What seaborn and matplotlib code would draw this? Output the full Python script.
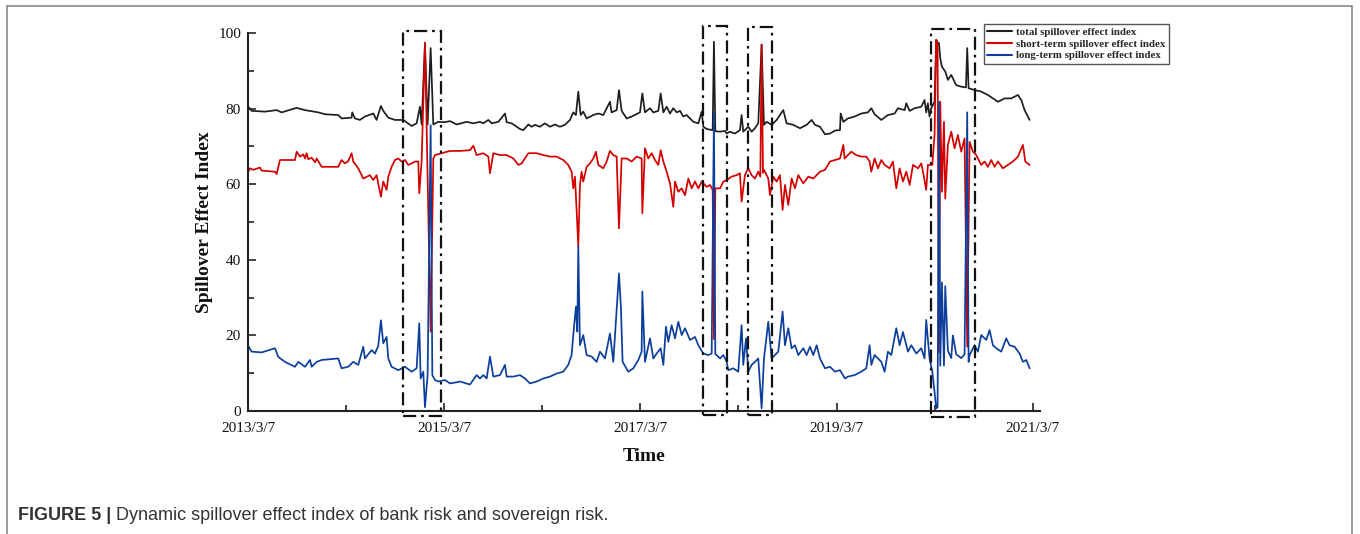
import numpy as np
import pandas as pd
import matplotlib
matplotlib.use("Agg")
import matplotlib.pyplot as plt
import seaborn as sns
from matplotlib.patches import Rectangle
from matplotlib.lines import Line2D

# ---------------- data (decimal years, index values) ----------------
total_year = [
    2013.181, 2013.215, 2013.351, 2013.470, 2013.521, 2013.674, 2013.759, 2013.895, 2013.963, 2014.098,
    2014.132, 2014.234, 2014.241, 2014.268, 2014.319, 2014.370, 2014.455, 2014.489, 2014.533, 2014.557,
    2014.608, 2014.676, 2014.761, 2014.846, 2014.897, 2014.931, 2014.948, 2014.982, 2015.009, 2015.040,
    2015.067, 2015.118, 2015.186, 2015.237,
    2015.305, 2015.407, 2015.475, 2015.543, 2015.577, 2015.628, 2015.662, 2015.730, 2015.798, 2015.815,
    2015.866, 2015.951, 2015.985, 2016.036, 2016.069, 2016.103, 2016.154, 2016.205, 2016.256, 2016.307,
    2016.358, 2016.409, 2016.460, 2016.494, 2016.521, 2016.545, 2016.569, 2016.596, 2016.630, 2016.698,
    2016.749, 2016.800, 2016.868, 2016.885, 2016.936, 2016.960, 2016.987, 2017.038, 2017.089, 2017.174,
    2017.198, 2017.225,
    2017.276, 2017.310, 2017.361, 2017.385, 2017.412, 2017.446, 2017.480, 2017.514, 2017.548, 2017.582,
    2017.616, 2017.650, 2017.684, 2017.718, 2017.769, 2017.803, 2017.820, 2017.854, 2017.915, 2017.928,
    2017.942, 2017.990, 2018.041, 2018.058, 2018.091, 2018.142, 2018.193, 2018.210, 2018.227, 2018.278,
    2018.312, 2018.346, 2018.380, 2018.414, 2018.438, 2018.465, 2018.516, 2018.567, 2018.635, 2018.669,
    2018.737, 2018.805, 2018.873, 2018.924, 2018.958, 2019.009, 2019.060, 2019.111, 2019.162, 2019.213,
    2019.220, 2019.247,
    2019.294, 2019.362, 2019.430, 2019.498, 2019.532, 2019.566, 2019.634, 2019.702, 2019.770, 2019.804,
    2019.872, 2019.889, 2019.923, 2019.974, 2020.042, 2020.075, 2020.092, 2020.109, 2020.126, 2020.143,
    2020.177, 2020.194, 2020.208, 2020.222, 2020.235, 2020.252, 2020.286, 2020.313, 2020.347, 2020.398,
    2020.449, 2020.497, 2020.510, 2020.524, 2020.585, 2020.653, 2020.721, 2020.772, 2020.823, 2020.891,
    2020.959, 2021.027, 2021.061, 2021.095, 2021.146,
]
total_index = [
    80.5, 79.4, 79.2, 79.6, 79.0, 80.2, 79.6, 79.0, 78.5, 78.3,
    77.4, 77.6, 79.0, 77.4, 77.0, 77.9, 78.7, 77.0, 80.7, 79.4,
    77.6, 77.0, 77.0, 75.4, 76.1, 80.5, 75.8, 97.0, 75.8, 96.0,
    75.8, 76.5, 76.4, 76.7,
    75.8, 76.5, 76.1, 76.5, 76.1, 77.0, 76.1, 76.5, 78.7, 76.4,
    76.1, 74.6, 74.3, 75.8, 75.2, 75.7, 75.2, 76.1, 75.2, 75.8,
    75.2, 75.7, 77.0, 79.0, 78.3, 84.5, 78.3, 79.2, 77.4, 78.3,
    78.7, 78.3, 81.8, 79.0, 79.6, 84.9, 79.4, 77.4, 77.9, 79.0,
    84.0, 79.0,
    80.1, 79.0, 79.4, 84.0, 79.0, 80.5, 78.7, 80.1, 79.0, 79.4,
    77.9, 78.3, 77.4, 76.5, 76.1, 79.2, 75.2, 74.6, 74.3, 97.7,
    74.0, 73.9, 74.1, 73.4, 73.9, 73.4, 74.3, 78.3, 73.9, 75.2,
    73.9, 74.8, 76.1, 97.0, 75.7, 76.5, 75.7, 77.0, 79.6, 76.1,
    75.7, 74.8, 75.7, 77.0, 75.7, 75.2, 73.2, 73.4, 74.2, 74.3,
    78.7, 76.5,
    77.4, 77.9, 78.7, 79.0, 80.1, 78.5, 77.0, 78.3, 78.7, 80.1,
    79.6, 81.4, 79.4, 80.1, 80.5, 82.3, 79.0, 81.4, 77.9, 80.1,
    81.8, 98.2, 97.5, 97.3, 93.3, 91.1, 89.8, 87.6, 88.9, 86.2,
    85.8, 85.6, 96.0, 85.4, 84.9, 84.5, 83.6, 82.7, 81.8, 82.7,
    82.7, 83.6, 82.3, 79.6, 77.0,
]

short_year = [
    2013.181, 2013.198, 2013.232, 2013.300, 2013.317, 2013.453, 2013.470, 2013.504, 2013.657, 2013.674,
    2013.708, 2013.742, 2013.759, 2013.776, 2013.793, 2013.827, 2013.861, 2013.878, 2013.929, 2014.098,
    2014.132, 2014.166, 2014.200, 2014.234, 2014.251, 2014.302, 2014.353, 2014.421, 2014.455, 2014.489,
    2014.533, 2014.557, 2014.591, 2014.608, 2014.642, 2014.676, 2014.710, 2014.744, 2014.778, 2014.812,
    2014.846, 2014.880, 2014.914, 2014.924, 2014.948, 2014.982, 2015.040, 2015.067, 2015.084, 2015.152,
    2015.237,
    2015.339, 2015.441, 2015.475, 2015.509, 2015.577, 2015.628, 2015.645, 2015.679, 2015.747, 2015.815,
    2015.883, 2015.934, 2015.968, 2016.036, 2016.120, 2016.188, 2016.256, 2016.324, 2016.392, 2016.443,
    2016.477, 2016.494, 2016.511, 2016.528, 2016.545, 2016.562, 2016.579, 2016.596, 2016.630, 2016.664,
    2016.698, 2016.725, 2016.749, 2016.800, 2016.834, 2016.868, 2016.902, 2016.936, 2016.960, 2016.987,
    2017.038, 2017.089, 2017.140, 2017.191, 2017.198, 2017.225,
    2017.259, 2017.293, 2017.327, 2017.361, 2017.385, 2017.412, 2017.446, 2017.480, 2017.514, 2017.531,
    2017.565, 2017.599, 2017.633, 2017.667, 2017.701, 2017.735, 2017.769, 2017.803, 2017.854, 2017.888,
    2017.915, 2017.928, 2017.942, 2017.990, 2018.024, 2018.058, 2018.108, 2018.159, 2018.193, 2018.210,
    2018.244, 2018.278, 2018.312, 2018.346, 2018.380, 2018.401, 2018.414, 2018.428, 2018.438, 2018.482,
    2018.499, 2018.533, 2018.567, 2018.601, 2018.628, 2018.652, 2018.686, 2018.720, 2018.754, 2018.788,
    2018.839, 2018.890, 2018.941, 2019.009, 2019.060, 2019.111, 2019.162, 2019.213, 2019.247,
    2019.260, 2019.328, 2019.379, 2019.430, 2019.481, 2019.515, 2019.532, 2019.566, 2019.600, 2019.634,
    2019.668, 2019.719, 2019.753, 2019.787, 2019.821, 2019.855, 2019.889, 2019.923, 2019.957, 2020.008,
    2020.042, 2020.059, 2020.092, 2020.109, 2020.154, 2020.177, 2020.194, 2020.208, 2020.222, 2020.235,
    2020.252, 2020.273, 2020.286, 2020.313, 2020.347, 2020.381, 2020.415, 2020.449, 2020.483, 2020.510,
    2020.534, 2020.568, 2020.602, 2020.653, 2020.687, 2020.721, 2020.755, 2020.789, 2020.823, 2020.874,
    2020.925, 2020.976, 2021.027, 2021.078, 2021.102, 2021.146,
]
short_index = [
    63.3, 64.2, 63.8, 64.4, 63.6, 63.3, 62.7, 66.4, 66.4, 68.6,
    67.3, 67.9, 66.8, 68.2, 66.6, 67.0, 65.8, 66.8, 64.6, 64.6,
    66.4, 65.5, 66.1, 68.2, 66.0, 64.2, 61.5, 62.4, 61.1, 62.4,
    56.7, 60.7, 58.5, 62.0, 64.6, 66.4, 66.8, 66.0, 66.4, 65.1,
    65.5, 66.0, 66.0, 57.6, 66.0, 97.5, 21.0, 66.8, 67.7, 68.2,
    68.8,
    68.8, 69.0, 70.2, 67.7, 68.2, 67.3, 62.9, 68.2, 67.7, 67.7,
    66.8, 65.1, 65.5, 68.2, 68.2, 67.7, 67.3, 67.3, 66.4, 65.1,
    63.3, 58.9, 62.0, 53.2, 43.5, 59.8, 63.3, 60.7, 64.6, 65.5,
    66.8, 68.6, 65.1, 64.2, 66.0, 68.8, 67.7, 67.3, 48.3, 66.8,
    66.8, 66.0, 67.3, 66.8, 52.3, 69.5,
    66.8, 68.2, 66.4, 65.1, 69.0, 66.0, 63.3, 60.2, 54.0, 60.7,
    58.0, 58.9, 57.1, 61.5, 58.9, 60.7, 58.9, 60.7, 59.3, 59.8,
    58.5, 19.0, 58.9, 58.9, 60.7, 61.1, 62.0, 62.4, 62.9, 55.4,
    62.4, 64.2, 62.4, 61.5, 63.3, 62.0, 96.8, 63.0, 63.8, 61.5,
    57.1, 62.0, 60.7, 62.4, 53.2, 59.8, 54.5, 61.5, 58.9, 62.4,
    60.2, 62.0, 61.5, 63.3, 63.8, 66.0, 66.4, 66.8, 70.4,
    66.8, 68.6, 67.7, 67.3, 67.3, 66.0, 63.3, 66.8, 64.2, 66.4,
    65.1, 64.2, 66.0, 58.9, 64.2, 60.7, 63.3, 59.8, 65.1, 64.2,
    65.5, 63.3, 58.5, 65.1, 65.1, 73.0, 98.2, 97.0, 15.5, 81.8,
    58.0, 76.5, 56.2, 70.4, 73.9, 69.5, 73.0, 68.6, 72.1, 17.0,
    71.2, 68.6, 67.7, 65.1, 66.0, 64.6, 66.4, 64.6, 66.0, 64.2,
    65.1, 66.0, 67.3, 70.4, 66.0, 65.1,
]

long_year = [
    2013.181, 2013.215, 2013.317, 2013.453, 2013.487, 2013.555, 2013.657, 2013.691, 2013.759, 2013.810,
    2013.827, 2013.878, 2013.929, 2014.098, 2014.132, 2014.200, 2014.251, 2014.302, 2014.353, 2014.370,
    2014.438, 2014.472, 2014.506, 2014.533, 2014.557, 2014.591, 2014.608, 2014.642, 2014.710, 2014.778,
    2014.846, 2014.897, 2014.924, 2014.938, 2014.965, 2014.982, 2015.009, 2015.040, 2015.057, 2015.084,
    2015.118, 2015.186, 2015.237,
    2015.305, 2015.339, 2015.441, 2015.509, 2015.543, 2015.577, 2015.611, 2015.645, 2015.679, 2015.747,
    2015.798, 2015.815, 2015.883, 2015.951, 2016.002, 2016.052, 2016.120, 2016.188, 2016.256, 2016.324,
    2016.392, 2016.443, 2016.477, 2016.494, 2016.521, 2016.535, 2016.545, 2016.562, 2016.596, 2016.630,
    2016.681, 2016.732, 2016.766, 2016.817, 2016.868, 2016.902, 2016.960, 2016.980, 2016.997, 2017.055,
    2017.106, 2017.157, 2017.191, 2017.198, 2017.225,
    2017.276, 2017.310, 2017.344, 2017.385, 2017.412, 2017.439, 2017.463, 2017.497, 2017.531, 2017.565,
    2017.599, 2017.633, 2017.684, 2017.735, 2017.769, 2017.820, 2017.871, 2017.905, 2017.928, 2017.942,
    2017.956, 2017.990, 2018.024, 2018.058, 2018.074, 2018.125, 2018.176, 2018.210, 2018.227, 2018.255,
    2018.278, 2018.312, 2018.346, 2018.380, 2018.414, 2018.438, 2018.482, 2018.516, 2018.550, 2018.584,
    2018.628, 2018.652, 2018.686, 2018.720, 2018.754, 2018.788, 2018.839, 2018.873, 2018.907, 2018.941,
    2018.975, 2019.009, 2019.060, 2019.111, 2019.162, 2019.213, 2019.264,
    2019.294, 2019.362, 2019.430, 2019.481, 2019.515, 2019.532, 2019.566, 2019.600, 2019.634, 2019.668,
    2019.702, 2019.736, 2019.787, 2019.821, 2019.855, 2019.906, 2019.940, 2019.991, 2020.042, 2020.075,
    2020.092, 2020.126, 2020.154, 2020.177, 2020.194, 2020.208, 2020.222, 2020.235, 2020.252, 2020.273,
    2020.286, 2020.313, 2020.347, 2020.364, 2020.398, 2020.449, 2020.483, 2020.510, 2020.524, 2020.534,
    2020.585, 2020.619, 2020.653, 2020.704, 2020.738, 2020.772, 2020.806, 2020.857, 2020.908, 2020.942,
    2020.993, 2021.044, 2021.078, 2021.112, 2021.146,
]
long_index = [
    17.2, 15.7, 15.5, 16.6, 14.3, 13.0, 11.7, 13.0, 11.7, 13.5,
    11.7, 13.0, 13.5, 13.9, 11.3, 11.7, 13.0, 12.2, 17.0, 13.9,
    16.1, 15.2, 17.2, 24.0, 17.9, 19.6, 13.9, 11.7, 10.8, 11.7,
    10.4, 11.3, 23.2, 8.6, 10.4, 1.0, 9.5, 75.6, 9.5, 8.2,
    7.8, 8.2, 7.3,
    7.6, 7.8, 7.0, 9.5, 8.6, 9.5, 8.6, 14.4, 9.1, 9.5,
    12.2, 9.1, 9.1, 9.5, 8.6, 7.3, 7.8, 8.6, 9.1, 9.9,
    10.4, 12.2, 14.8, 20.1, 27.6, 21.0, 43.5, 17.4, 20.1, 14.8,
    14.4, 13.0, 15.7, 13.9, 20.5, 13.0, 36.4, 27.1, 13.0, 10.4,
    11.3, 13.5, 15.7, 31.6, 13.0,
    19.2, 13.9, 15.2, 16.6, 12.2, 22.3, 18.3, 22.7, 19.2, 23.6,
    20.1, 21.9, 18.8, 19.6, 17.4, 15.2, 14.8, 15.2, 79.0, 15.0,
    14.8, 13.9, 14.8, 13.0, 10.8, 11.3, 10.4, 22.7, 12.2, 19.2,
    10.4, 12.2, 13.0, 13.9, 0.7, 13.9, 23.6, 13.9, 14.8, 15.7,
    26.3, 17.4, 21.9, 16.6, 17.4, 14.8, 16.6, 14.8, 17.0, 14.8,
    17.4, 13.9, 11.3, 11.7, 10.4, 10.8, 8.6,
    9.1, 9.5, 10.4, 11.3, 17.4, 12.2, 14.8, 13.9, 13.0, 10.4,
    15.7, 14.8, 21.9, 17.4, 20.9, 15.7, 17.4, 15.2, 16.6, 13.9,
    24.1, 13.9, 10.4, 5.1, 0.7, 1.0, 81.8, 12.0, 34.0, 12.0,
    33.0, 16.0, 14.0, 20.0, 15.0, 14.0, 15.0, 79.0, 13.0, 14.8,
    17.4, 15.7, 20.1, 18.8, 21.4, 17.4, 16.6, 15.7, 19.2, 17.4,
    17.0, 15.2, 13.0, 13.5, 11.3,
]

series_names = ["total spillover effect index",
                "short-term spillover effect index",
                "long-term spillover effect index"]
series_colors = ["#1e1e1e", "#d40000", "#0c3f9c"]

# highlighted periods (dash-dot boxes)
box_start = [2014.758, 2017.816, 2018.275, 2020.140]
box_end = [2015.145, 2018.061, 2018.520, 2020.589]
box_low = [-1.3, -1.1, -1.1, -1.6]
box_high = [100.5, 101.9, 101.6, 101.1]

tick_years = [2013.178, 2015.178, 2017.178, 2019.178, 2021.178]
tick_labels = ["2013/3/7", "2015/3/7", "2017/3/7", "2019/3/7", "2021/3/7"]
minor_years = [2014.178, 2016.178, 2018.178, 2020.178]
y_major = [0, 20, 40, 60, 80, 100]
y_minor = [10, 30, 50, 70, 90]

caption_bold = "FIGURE 5 |"
caption_text = " Dynamic spillover effect index of bank risk and sovereign risk."

# ---------------- plotting ----------------
sns.set_theme(style="ticks")
plt.rcParams["font.family"] = ["Liberation Serif", "DejaVu Serif"]
plt.rcParams["lines.scale_dashes"] = False

W, H = 1360, 534
fig = plt.figure(figsize=(W / 100, H / 100), dpi=100)
fig.patch.set_facecolor("white")
ax = fig.add_axes([248 / W, 1 - 411 / H, (1040 - 248) / W, (411 - 33) / H])
ax.set_facecolor("white")

frames = []
for name, yrs, vals in zip(series_names,
                           [total_year, short_year, long_year],
                           [total_index, short_index, long_index]):
    frames.append(pd.DataFrame({"year": yrs, "value": vals, "series": name}))
df = pd.concat(frames, ignore_index=True)

sns.lineplot(data=df, x="year", y="value", hue="series", hue_order=series_names,
             palette=dict(zip(series_names, series_colors)), estimator=None,
             errorbar=None, linewidth=1.25, ax=ax)

for x0, x1, y0, y1 in zip(box_start, box_end, box_low, box_high):
    ax.add_patch(Rectangle((x0, y0), x1 - x0, y1 - y0, fill=False, edgecolor="#111111",
                           linewidth=1.6, linestyle=(0, (9.5, 3.5, 2.0, 3.5)),
                           clip_on=False, zorder=5))

ax.set_xlim(2013.178, 2021.252)
ax.set_ylim(0, 100)
ax.set_xticks(tick_years)
ax.set_xticklabels(tick_labels)
ax.set_xticks(minor_years, minor=True)
ax.set_yticks(y_major)
ax.set_yticks(y_minor, minor=True)
ax.tick_params(which="both", direction="in", width=1.2, color="#222222",
               labelsize=11, labelcolor="#111111")
ax.tick_params(axis="x", which="both", pad=8)
ax.tick_params(axis="y", which="both", pad=5)
ax.tick_params(which="major", length=6)
ax.tick_params(which="minor", length=4)
for s in ["top", "right"]:
    ax.spines[s].set_visible(False)
for s in ["left", "bottom"]:
    ax.spines[s].set_linewidth(1.5)
    ax.spines[s].set_color("#222222")

ax.set_xlabel("Time", fontsize=14, fontweight="bold", color="#111111")
ax.set_ylabel("Spillover Effect Index", fontsize=14, fontweight="bold", color="#111111")
ax.xaxis.set_label_coords(0.5, -0.098)
ax.yaxis.set_label_coords(-0.044, 0.5)

handles, labels = ax.get_legend_handles_labels()
leg = ax.legend(handles, labels, loc="upper right",
                bbox_to_anchor=(1169 / W, 1 - 24 / H), bbox_transform=fig.transFigure,
                prop={"family": "Liberation Serif", "weight": "bold", "size": 7.8},
                frameon=True, fancybox=False, edgecolor="#555555", framealpha=1,
                borderpad=0.3, labelspacing=0.2, handlelength=2.3,
                handletextpad=0.4, borderaxespad=0)
leg.get_frame().set_linewidth(1.0)
for ln in leg.get_lines():
    ln.set_linewidth(1.5)

# outer frame of the figure panel
frame_kw = dict(transform=fig.transFigure, color="#8a8a8a", linewidth=1.2)
fig.add_artist(Line2D([7 / W, 7 / W], [0, 1 - 6 / H], **frame_kw))
fig.add_artist(Line2D([7 / W, 1352 / W], [1 - 6 / H, 1 - 6 / H], **frame_kw))
fig.add_artist(Line2D([1352 / W, 1352 / W], [0, 1 - 6 / H], **frame_kw))

# caption
cap_kw = dict(fontsize=13, color="#333333", va="center",
              family=["Liberation Sans", "DejaVu Sans"])
t1 = fig.text(18 / W, 1 - 515 / H, caption_bold, fontweight="bold", **cap_kw)
fig.canvas.draw()
bb = t1.get_window_extent(renderer=fig.canvas.get_renderer())
x_next = bb.x1 / fig.bbox.width
fig.text(x_next, 1 - 515 / H, caption_text, **cap_kw)

fig.savefig("out.png", dpi=100, facecolor="white")
